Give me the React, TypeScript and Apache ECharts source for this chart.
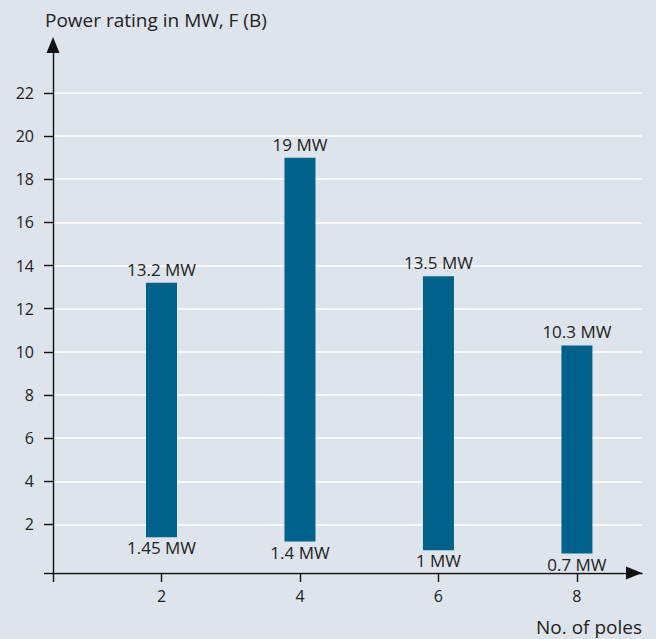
import React, { useEffect, useRef } from "react";
import * as echarts from "echarts";

const poles = [2, 4, 6, 8];
const ratingMax = [13.2, 19, 13.5, 10.3];
const ratingMin = [1.45, 1.4, 1, 0.7];
const barBottom = [1.41, 1.21, 0.81, 0.65];
const yTicks = [2, 4, 6, 8, 10, 12, 14, 16, 18, 20, 22];
const xTicks = [2, 4, 6, 8];

const Y_MIN = -0.248;
const Y_MAX = 24.22;
const X_MIN = 0.433;
const X_MAX = 8.94;

const FONT = "'Open Sans', 'Noto Sans', sans-serif";
const TEXT = "#222222";
const BAR = "#00628a";
const BG = "#dde4ec";

export default function App() {
  const ref = useRef<HTMLDivElement>(null);
  useEffect(() => {
    if (!ref.current) return;
    const chart = echarts.init(ref.current, undefined, { renderer: "svg" });
    const data = poles.map((p, i) => [p, barBottom[i], ratingMax[i], ratingMin[i]]);
    chart.setOption({
      animation: false,
      backgroundColor: BG,
      textStyle: { fontFamily: FONT },
      grid: { left: 53, right: 14, top: 45, bottom: 66, containLabel: false },
      xAxis: {
        type: "value",
        min: X_MIN,
        max: X_MAX,
        axisLine: {
          onZero: false,
          symbol: ["none", "triangle"],
          symbolSize: [13, 16],
          symbolOffset: [0, -8],
          lineStyle: { color: "#111", width: 1.4 },
        },
        axisTick: {
          show: true,
          length: 9,
          customValues: [X_MIN, ...xTicks],
          lineStyle: { color: "#111", width: 1.4 },
        },
        axisLabel: {
          customValues: xTicks,
          fontSize: 16,
          color: TEXT,
          margin: 15,
          fontFamily: FONT,
        },
        splitLine: { show: false },
      },
      yAxis: {
        type: "value",
        min: Y_MIN,
        max: Y_MAX,
        axisLine: {
          show: true,
          onZero: false,
          symbol: ["none", "triangle"],
          symbolSize: [13, 16],
          lineStyle: { color: "#111", width: 1.4 },
        },
        axisTick: {
          show: true,
          length: 9,
          customValues: [Y_MIN, ...yTicks],
          lineStyle: { color: "#111", width: 1.4 },
        },
        axisLabel: {
          customValues: yTicks,
          fontSize: 16,
          color: TEXT,
          margin: 19,
          fontFamily: FONT,
        },
        splitLine: { show: true, lineStyle: { color: "#ffffff", width: 1.5 } },
      },
      graphic: [
        {
          type: "text",
          x: 45,
          y: 20,
          style: {
            text: "Power rating in MW, F (B)",
            fontSize: 19,
            fontFamily: FONT,
            fill: TEXT,
            textVerticalAlign: "middle",
          },
        },
        {
          type: "text",
          x: 642,
          y: 627,
          style: {
            text: "No. of poles",
            fontSize: 19,
            fontFamily: FONT,
            fill: TEXT,
            textAlign: "right",
            textVerticalAlign: "middle",
          },
        },
      ],
      series: [
        {
          type: "custom",
          data,
          encode: { x: 0, y: [1, 2] },
          renderItem: (params: any, api: any) => {
            const x = api.value(0);
            const lo = api.value(1);
            const hi = api.value(2);
            const minLabel = api.value(3);
            const top = api.coord([x, hi]);
            const bot = api.coord([x, lo]);
            const w = 31;
            return {
              type: "group",
              children: [
                {
                  type: "rect",
                  shape: { x: top[0] - w / 2, y: top[1], width: w, height: bot[1] - top[1] },
                  style: { fill: BAR },
                },
                {
                  type: "text",
                  x: top[0],
                  y: top[1] - 5,
                  style: {
                    text: `${hi} MW`,
                    fontSize: 17,
                    fontFamily: FONT,
                    fill: TEXT,
                    textAlign: "center",
                    textVerticalAlign: "bottom",
                  },
                },
                {
                  type: "text",
                  x: bot[0],
                  y: bot[1] + 2,
                  style: {
                    text: `${minLabel} MW`,
                    fontSize: 17,
                    fontFamily: FONT,
                    fill: TEXT,
                    textAlign: "center",
                    textVerticalAlign: "top",
                  },
                },
              ],
            };
          },
        },
      ],
    });
    return () => chart.dispose();
  }, []);
  return (
    <div
      ref={ref}
      style={{ position: "absolute", left: 0, top: 0, width: 656, height: 639 }}
    />
  );
}
